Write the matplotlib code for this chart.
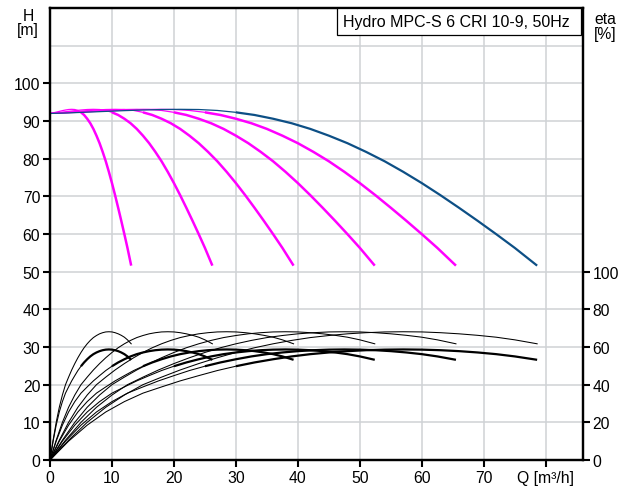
import numpy as np
import matplotlib
matplotlib.use("Agg")
import matplotlib.pyplot as plt
from matplotlib.patches import Rectangle

plt.rcParams.update({
    "font.family": ["Liberation Sans", "DejaVu Sans"],
    "font.size": 11.3,
})

# single pump curves (flow per pump in m3/h)
q_pump = [0, 0.5, 1, 1.5, 2, 2.5, 3, 3.5, 4, 4.5, 5, 5.5, 6, 6.5,
          7, 7.5, 8, 8.5, 9, 9.5, 10, 10.5, 11, 11.5, 12, 12.5, 13.1]
head_m = [92.0, 92.15, 92.35, 92.55, 92.75, 92.92, 93.05, 93.1, 93.05,
          92.8, 92.3, 91.6, 90.6, 89.4, 87.9, 86.1, 84.1, 81.8, 79.3,
          76.5, 73.5, 70.3, 66.95, 63.5, 59.95, 56.3, 51.6]
eta_pump = [0, 10.5, 20, 28, 34.5, 40, 44, 47.8, 51.2, 54.3, 57.1,
            59.6, 61.7, 63.5, 65, 66.1, 67, 67.6, 68, 68.1, 68, 67.6,
            67, 66.2, 65.2, 63.8, 61.7]
eta_total = [0, 10, 18.5, 25.5, 31, 35.5, 38.8, 42, 44.8, 47.5, 49.8,
             51.8, 53.5, 55, 56.2, 57.1, 57.8, 58.3, 58.6, 58.7, 58.6,
             58.3, 57.8, 57.1, 56.2, 55, 53.2]
thick_from = 5            # curves drawn thick from this flow per pump on

n_pumps = [1, 2, 3, 4, 5, 6]
x_ticks = [0, 10, 20, 30, 40, 50, 60, 70, 80]
x_labels = ["0", "10", "20", "30", "40", "50", "60", "70", "Q [m³/h]"]
h_ticks = [0, 10, 20, 30, 40, 50, 60, 70, 80, 90, 100]
eta_ticks = [0, 20, 40, 60, 80, 100]
title = "Hydro MPC-S 6 CRI 10-9, 50Hz"

C_MAG = "#ff00ff"
C_BLUE = "#0d4f85"
C_GRID = "#cfd2d5"

fig = plt.figure(figsize=(6.29, 4.89), dpi=100)
ax = fig.add_axes([50 / 629, 28 / 489, 533 / 629, 452 / 489])
ax2 = ax.twinx()

q = np.array(q_pump)
split = q_pump.index(thick_from)


def draw(axis, n, y, color, thin_lw, thick_lw, thin_all=False):
    x = q * n
    y = np.array(y)
    if thin_all:
        axis.plot(x, y, color=color, lw=thin_lw)
        return
    axis.plot(x[:split + 1], y[:split + 1], color=color, lw=thin_lw)
    axis.plot(x[split:], y[split:], color=color, lw=thick_lw,
              solid_capstyle="butt")


for n in n_pumps:
    col = C_BLUE if n == max(n_pumps) else C_MAG
    draw(ax, n, head_m, col, 0.9, 1.8 if col == C_MAG else 1.6)
    draw(ax2, n, eta_pump, "black", 0.75, 0.75, thin_all=True)
    draw(ax2, n, eta_total, "black", 0.75, 1.6)

ax.set_xlim(0, 86)
ax.set_ylim(0, 120)
ax2.set_ylim(0, 240)

ax.set_xticks(x_ticks)
ax.set_xticklabels(x_labels)
ax.set_yticks(h_ticks)
ax.set_yticks([110, 120], minor=True)
ax2.set_yticks(eta_ticks)

ax.grid(True, which="both", color=C_GRID, lw=1.1)
ax.set_axisbelow(True)
ax.tick_params(which="major", direction="out", length=5, width=1.5,
               pad=2, labelsize=11.3)
ax.tick_params(which="minor", length=0)
ax2.tick_params(direction="out", length=5, width=1.5, pad=2,
                labelsize=11.3)

for a in (ax, ax2):
    for s in a.spines.values():
        s.set_linewidth(1.6)
        s.set_color("black")

ax.text(-0.041, 1.0, "H\n[m]", transform=ax.transAxes, ha="center",
        va="top", fontsize=11.3, linespacing=0.95)
ax2.text(1.041, 0.993, "eta\n[%]", transform=ax.transAxes, ha="center",
         va="top", fontsize=11.3, linespacing=0.95)

# title box in the upper right corner
ax2.add_patch(Rectangle((0.5385, 0.9403), 0.4577, 0.0597,
                        transform=ax.transAxes, fc="white", ec="black",
                        lw=0.9, zorder=5))
ax2.text(0.5497, 0.9705, title, transform=ax.transAxes, ha="left",
         va="center", fontsize=11.5, zorder=6)

fig.savefig("out.png", dpi=100)
print("Saved: out.png")
